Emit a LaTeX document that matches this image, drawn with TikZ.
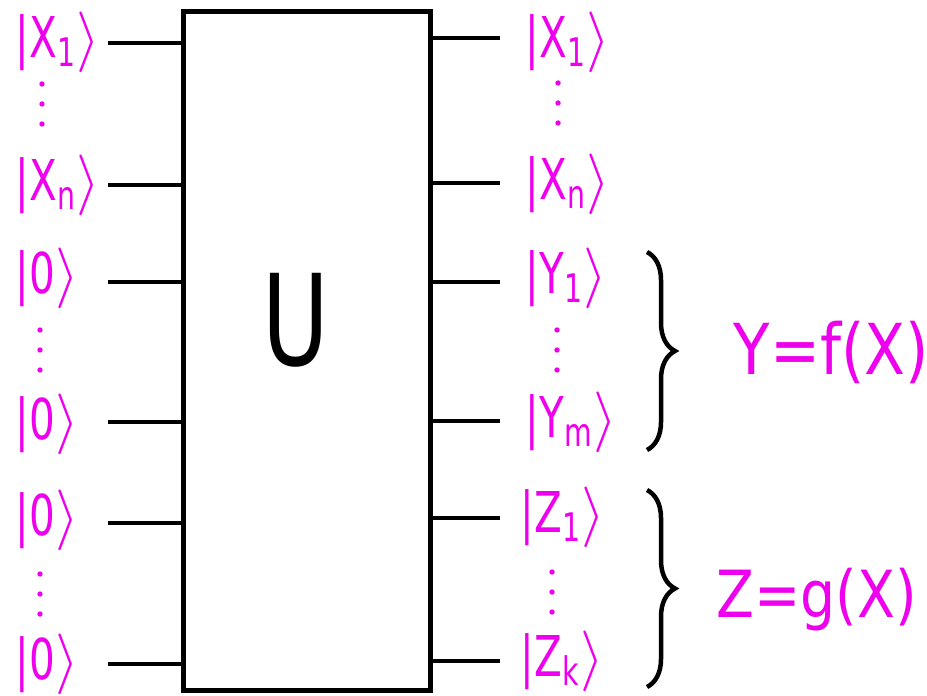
\documentclass[tikz,border=0pt]{standalone}
\usepackage{fontspec}
\newfontfamily\handfont[FakeStretch=0.72]{DejaVu Sans}
\newfontfamily\eqfont[FakeStretch=0.85]{DejaVu Sans}
\usetikzlibrary{decorations.pathreplacing}
\definecolor{ketpink}{RGB}{238,0,238}
\newcommand{\ketof}[2]{|#1\textsubscript{#2}$\rangle$}

\begin{document}
\begin{tikzpicture}[x=0.1mm,y=-0.1mm,
  wire/.style={line width=0.4mm},
  ket/.style={text=ketpink,font=\handfont\fontsize{16}{16}\selectfont,inner sep=0pt,anchor=west},
  dotcol/.style={fill=ketpink},
  eqn/.style={text=ketpink,font=\eqfont\fontsize{20}{20}\selectfont,inner sep=0pt,anchor=west},
  brace/.style={decorate,decoration={brace,amplitude=2.8mm},line width=0.45mm}]
\useasboundingbox (0,0) rectangle (927,696);
% the gate
\node[draw,line width=0.5mm,minimum width=24.7mm,minimum height=67.8mm,inner sep=0pt] (gate) at (306.5,351) {};
\node[font=\handfont\fontsize{36}{36}\selectfont] (ulab) at (296,320) {U};
% wires
\foreach \y [count=\i] in {43,185,282,422,523,664}{
  \coordinate (in\i) at (108,\y);
  \draw[wire] (in\i) -- (in\i -| gate.west);
}
\foreach \y [count=\i] in {38,183,282,421,518,661}{
  \coordinate (out\i) at (500,\y);
  \draw[wire] (out\i -| gate.east) -- (out\i);
}
% inputs
\node[ket] (lx1) at (15,42) {\ketof{X}{1}};
\node[ket] (lxn) at (15,185) {\ketof{X}{n}};
\node[ket] (lza) at (15,278) {|0$\rangle$};
\node[ket] (lzb) at (15,424) {|0$\rangle$};
\node[ket] (lzc) at (15,520) {|0$\rangle$};
\node[ket] (lzd) at (15,664) {|0$\rangle$};
% outputs
\node[ket] (rx1) at (525,42) {\ketof{X}{1}};
\node[ket] (rxn) at (525,184) {\ketof{X}{n}};
\node[ket] (ry1) at (525,278) {\ketof{Y}{1}};
\node[ket] (rym) at (525,422) {\ketof{Y}{m}};
\node[ket] (rz1) at (520,517) {\ketof{Z}{1}};
\node[ket] (rzk) at (520,661) {\ketof{Z}{k}};
% dots between the kets
\foreach \x/\y in {42/104,40/350,40/594,558/103,557/350,552/592}
  \foreach \d in {-20,0,20}
    \fill[dotcol] (\x,\y+\d) circle (0.27mm);
% braces
\coordinate (ybt) at (647,252);
\coordinate (ybb) at (647,450);
\coordinate (zbt) at (647,490);
\coordinate (zbb) at (647,687);
\draw[brace] (ybt) -- (ybb);
\draw[brace] (zbt) -- (zbb);
\node[eqn] (yeq) at (733,352) {Y=f(X)};
\node[eqn,font=\eqfont\fontsize{18.5}{18.5}\selectfont] (zeq) at (716,600) {Z=g(X)};
\end{tikzpicture}
\end{document}
